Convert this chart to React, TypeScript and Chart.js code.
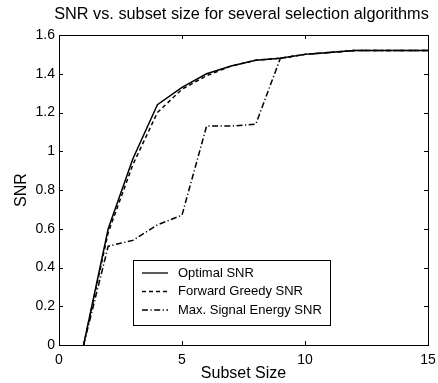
import React, { useEffect, useRef } from "react";
import { Chart, registerables } from "chart.js";

Chart.register(...registerables);

const subsetSizes = [1, 2, 3, 4, 5, 6, 7, 8, 9, 10, 11, 12, 13, 14, 15];
const optimalSNR = [0, 0.6, 0.96, 1.24, 1.33, 1.4, 1.44, 1.47, 1.48, 1.5, 1.51, 1.52, 1.52, 1.52, 1.52];
const greedySNR = [0, 0.58, 0.93, 1.2, 1.32, 1.39, 1.44, 1.47, 1.48, 1.5, 1.51, 1.52, 1.52, 1.52, 1.52];
const energySNR = [0, 0.51, 0.54, 0.62, 0.67, 1.13, 1.13, 1.14, 1.48, 1.5, 1.51, 1.52, 1.52, 1.52, 1.52];
const seriesNames = ["Optimal SNR", "Forward Greedy SNR", "Max. Signal Energy SNR"];
const xTicks = [0, 5, 10, 15];
const yTicks = [0, 0.2, 0.4, 0.6, 0.8, 1, 1.2, 1.4, 1.6];
const titleText = "SNR vs. subset size for several selection algorithms";

const FONT = "'Liberation Sans', Arial, sans-serif";
const dashes = [[], [4, 3], [6, 2.5, 1.2, 2.5]];

const matlabPlugin = {
  id: "matlab",
  afterDraw(chart: any) {
    const ctx = chart.ctx;
    const { left, right, top, bottom } = chart.chartArea;
    const xs = chart.scales.x;
    const ys = chart.scales.y;
    ctx.save();
    ctx.strokeStyle = "#000";
    ctx.lineWidth = 1;
    ctx.strokeRect(Math.round(left) + 0.5, Math.round(top) + 0.5, Math.round(right - left), Math.round(bottom - top));
    const tl = 4;
    ctx.beginPath();
    xTicks.forEach((v) => {
      const px = Math.round(xs.getPixelForValue(v)) + 0.5;
      ctx.moveTo(px, bottom);
      ctx.lineTo(px, bottom - tl);
      ctx.moveTo(px, top);
      ctx.lineTo(px, top + tl);
    });
    yTicks.forEach((v) => {
      const py = Math.round(ys.getPixelForValue(v)) + 0.5;
      ctx.moveTo(left, py);
      ctx.lineTo(left + tl, py);
      ctx.moveTo(right, py);
      ctx.lineTo(right - tl, py);
    });
    ctx.stroke();
    ctx.fillStyle = "#000";
    ctx.font = `16.3px ${FONT}`;
    ctx.textAlign = "center";
    ctx.textBaseline = "middle";
    ctx.fillText(titleText, (left + right) / 2 - 2, 15);
    const bx = 133, by = 260, bw = 197, bh = 65;
    ctx.fillStyle = "#fff";
    ctx.fillRect(bx, by, bw, bh);
    ctx.strokeRect(bx + 0.5, by + 0.5, bw, bh);
    ctx.font = `13px ${FONT}`;
    ctx.textAlign = "left";
    ctx.fillStyle = "#000";
    chart.data.datasets.forEach((ds: any, i: number) => {
      const ry = 273 + i * 18.5;
      ctx.beginPath();
      ctx.setLineDash(ds.borderDash || []);
      ctx.lineWidth = 1.3;
      ctx.moveTo(142, ry);
      ctx.lineTo(168, ry);
      ctx.stroke();
      ctx.setLineDash([]);
      ctx.fillText(ds.label, 178, ry);
    });
    ctx.restore();
  },
};

export default function App() {
  const ref = useRef<HTMLCanvasElement>(null);
  useEffect(() => {
    document.body.style.margin = "0";
    const mk = (label: string, data: number[], i: number) => ({
      label,
      data: subsetSizes.map((x, k) => ({ x, y: data[k] })),
      borderColor: "#000",
      borderWidth: 1.5,
      borderDash: dashes[i],
      pointRadius: 0,
      fill: false,
      tension: 0,
    });
    const chart = new Chart(ref.current!, {
      type: "line",
      data: {
        datasets: [mk(seriesNames[0], optimalSNR, 0), mk(seriesNames[1], greedySNR, 1), mk(seriesNames[2], energySNR, 2)],
      },
      options: {
        animation: false,
        responsive: false,
        maintainAspectRatio: false,
        layout: { padding: { top: 35, right: 10, left: 0, bottom: 0 } },
        plugins: { legend: { display: false }, tooltip: { enabled: false }, title: { display: false } },
        scales: {
          x: {
            type: "linear",
            min: 0,
            max: 15,
            afterBuildTicks: (s: any) => { s.ticks = xTicks.map((v) => ({ value: v })); },
            afterFit: (s: any) => { s.height = 38; s.paddingLeft = 0; s.paddingRight = 0; },
            grid: { display: false, drawTicks: false },
            border: { display: false },
            ticks: { color: "#000", font: { family: FONT, size: 14 }, padding: 7, maxRotation: 0 },
            title: { display: true, text: "Subset Size", color: "#000", font: { family: FONT, size: 16 }, padding: { top: 0, bottom: 0 } },
          },
          y: {
            min: 0,
            max: 1.6,
            afterBuildTicks: (s: any) => { s.ticks = yTicks.map((v) => ({ value: v })); },
            afterFit: (s: any) => { s.width = 59; s.paddingTop = 0; s.paddingBottom = 0; },
            grid: { display: false, drawTicks: false },
            border: { display: false },
            ticks: { color: "#000", font: { family: FONT, size: 14 }, padding: 4, callback: (v: any) => String(Math.round(v * 10) / 10) },
            title: { display: true, text: "SNR", color: "#000", font: { family: FONT, size: 16 }, padding: { top: 12, bottom: 0 } },
          },
        },
      },
      plugins: [matlabPlugin],
    } as any);
    return () => chart.destroy();
  }, []);
  return <canvas ref={ref} width={438} height={383} style={{ display: "block" }} />;
}
